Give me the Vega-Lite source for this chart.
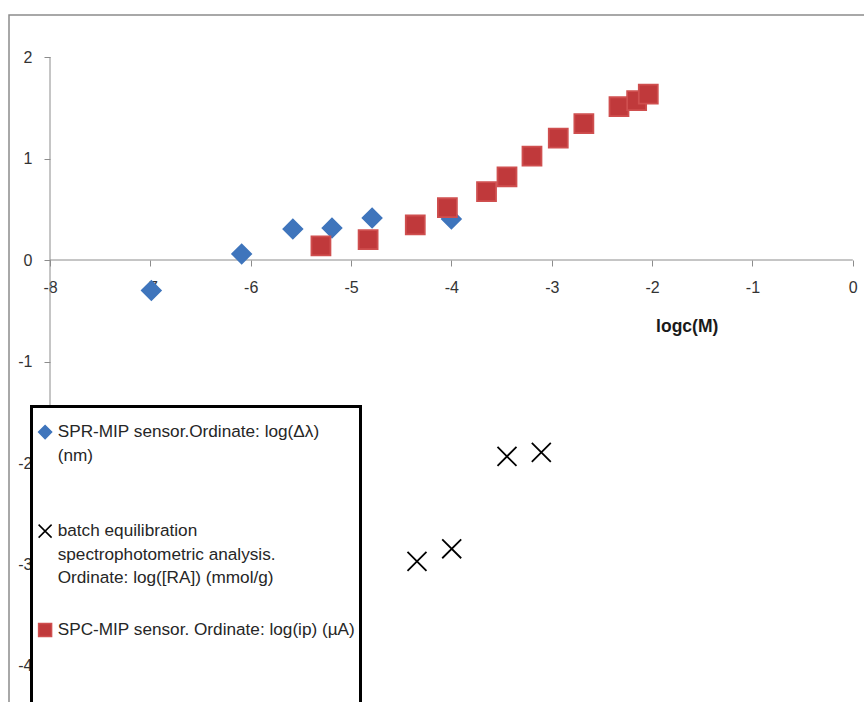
{
  "$schema": "https://vega.github.io/schema/vega-lite/v6.json",
  "width": 861,
  "height": 695,
  "padding": {"left": 9, "top": 15, "right": 0, "bottom": 0},
  "autosize": {"type": "none"},
  "background": "white",
  "config": {
    "view": {"stroke": "#8c8c8c", "strokeWidth": 1.5},
    "style": {"guide-label": {"lineHeight": 23.5}},
    "legend": {"strokeWidth": 3},
    "font": "Liberation Sans"
  },
  "encoding": {
    "x": {
      "field": "x",
      "type": "quantitative",
      "scale": {"domain": [-8.4086, 0.1714], "nice": false, "zero": false},
      "axis": {
        "values": [-8, -7, -6, -5, -4, -3, -2, -1, 0],
        "labelExpr": "'' + datum.value",
        "offset": -450,
        "domain": false,
        "grid": false,
        "ticks": true,
        "tickColor": "#8c8c8c",
        "tickSize": 6,
        "labelFont": "Liberation Sans",
        "labelFontSize": 16,
        "labelColor": "#333333",
        "labelPadding": 13,
        "labelFlush": false,
        "labelOverlap": false,
        "labelBound": false,
        "title": "logc(M)",
        "titleFont": "Liberation Sans",
        "titleFontSize": 17.5,
        "titleFontWeight": "bold",
        "titleColor": "#1a1a1a",
        "titleX": 677.7,
        "titleY": 66,
        "titleAlign": "center",
        "titleBaseline": "middle"
      }
    },
    "y": {
      "field": "y",
      "type": "quantitative",
      "scale": {"domain": [-4.4335, 2.4138], "nice": false, "zero": false},
      "axis": {
        "values": [-4, -3, -2, -1, 0, 1, 2],
        "labelExpr": "'' + datum.value",
        "offset": -41,
        "domain": false,
        "grid": false,
        "tickColor": "#8c8c8c",
        "tickSize": 6,
        "labelFont": "Liberation Sans",
        "labelFontSize": 16,
        "labelColor": "#333333",
        "labelPadding": 12,
        "labelFlush": false,
        "labelOverlap": false,
        "labelBound": false,
        "title": null
      }
    }
  },
  "layer": [
    {
      "data": {
        "values": [
          {"x": -8, "x2": 0, "y": 0, "y2": 0},
          {"x": -8, "x2": -8, "y": -4.4335, "y2": 2}
        ]
      },
      "mark": {"type": "rule", "color": "#8c8c8c", "strokeWidth": 1},
      "encoding": {
        "x2": {"field": "x2"},
        "y2": {"field": "y2"}
      }
    },
    {
      "data": {
        "values": [
          {"s": "SPR", "x": -6.99, "y": -0.30},
          {"s": "SPR", "x": -6.09, "y": 0.06},
          {"s": "SPR", "x": -5.58, "y": 0.305},
          {"s": "SPR", "x": -5.19, "y": 0.315},
          {"s": "SPR", "x": -4.79, "y": 0.414},
          {"s": "SPR", "x": -4.00, "y": 0.404},
          {"s": "batch", "x": -4.343, "y": -2.97},
          {"s": "batch", "x": -3.997, "y": -2.845},
          {"s": "batch", "x": -3.446, "y": -1.935},
          {"s": "batch", "x": -3.104, "y": -1.895},
          {"s": "SPC", "x": -5.30, "y": 0.14},
          {"s": "SPC", "x": -4.83, "y": 0.20},
          {"s": "SPC", "x": -4.36, "y": 0.345},
          {"s": "SPC", "x": -4.04, "y": 0.515},
          {"s": "SPC", "x": -3.65, "y": 0.673},
          {"s": "SPC", "x": -3.446, "y": 0.82},
          {"s": "SPC", "x": -3.197, "y": 1.024},
          {"s": "SPC", "x": -2.935, "y": 1.20},
          {"s": "SPC", "x": -2.68, "y": 1.343},
          {"s": "SPC", "x": -2.33, "y": 1.51},
          {"s": "SPC", "x": -2.154, "y": 1.57},
          {"s": "SPC", "x": -2.038, "y": 1.635}
        ]
      },
      "mark": {"type": "point", "size": 360, "strokeWidth": 1.8, "opacity": 1},
      "encoding": {
        "shape": {
          "field": "s",
          "type": "nominal",
          "scale": {"domain": ["SPR", "batch", "SPC"], "range": ["diamond", "M-1,-1L1,1M-1,1L1,-1", "square"]},
          "legend": {
            "orient": "none", "legendX": 22.5, "legendY": 391.5,
            "title": " ", "titleFontSize": 8, "titlePadding": 4,
            "padding": 5, "strokeColor": "#000000", "fillColor": "#ffffff",
            "labelFont": "Liberation Sans", "labelFontSize": 17.2, "labelColor": "#262626",
            "labelLimit": 0, "labelBaseline": "middle", "labelOffset": 4,
            "symbolSize": 169, "symbolStrokeWidth": 1.5, "rowPadding": 10, "symbolOffset": 0,
            "labelExpr": "datum.value == 'SPR' ? ['SPR-MIP sensor.Ordinate: log(Δλ)', '(nm)', '', ''] : datum.value == 'batch' ? ['batch equilibration', 'spectrophotometric analysis.', 'Ordinate: log([RA]) (mmol/g)', ''] : ['SPC-MIP sensor. Ordinate: log(ip) (µA)', '', '', '']",
            "zindex": 2
          }
        },
        "fill": {
          "field": "s",
          "type": "nominal",
          "scale": {"domain": ["SPR", "batch", "SPC"], "range": ["#3F75BC", "transparent", "#C0393B"]},
          "legend": {
            "orient": "none", "legendX": 22.5, "legendY": 391.5,
            "title": " ", "titleFontSize": 8, "titlePadding": 4,
            "padding": 5, "strokeColor": "#000000", "fillColor": "#ffffff",
            "labelFont": "Liberation Sans", "labelFontSize": 17.2, "labelColor": "#262626",
            "labelLimit": 0, "labelBaseline": "middle", "labelOffset": 4,
            "symbolSize": 169, "symbolStrokeWidth": 1.5, "rowPadding": 10, "symbolOffset": 0,
            "labelExpr": "datum.value == 'SPR' ? ['SPR-MIP sensor.Ordinate: log(Δλ)', '(nm)', '', ''] : datum.value == 'batch' ? ['batch equilibration', 'spectrophotometric analysis.', 'Ordinate: log([RA]) (mmol/g)', ''] : ['SPC-MIP sensor. Ordinate: log(ip) (µA)', '', '', '']",
            "zindex": 2
          }
        },
        "stroke": {
          "field": "s",
          "type": "nominal",
          "scale": {"domain": ["SPR", "batch", "SPC"], "range": ["#3F75BC", "#000000", "#CF4F4F"]},
          "legend": {
            "orient": "none", "legendX": 22.5, "legendY": 391.5,
            "title": " ", "titleFontSize": 8, "titlePadding": 4,
            "padding": 5, "strokeColor": "#000000", "fillColor": "#ffffff",
            "labelFont": "Liberation Sans", "labelFontSize": 17.2, "labelColor": "#262626",
            "labelLimit": 0, "labelBaseline": "middle", "labelOffset": 4,
            "symbolSize": 169, "symbolStrokeWidth": 1.5, "rowPadding": 10, "symbolOffset": 0,
            "labelExpr": "datum.value == 'SPR' ? ['SPR-MIP sensor.Ordinate: log(Δλ)', '(nm)', '', ''] : datum.value == 'batch' ? ['batch equilibration', 'spectrophotometric analysis.', 'Ordinate: log([RA]) (mmol/g)', ''] : ['SPC-MIP sensor. Ordinate: log(ip) (µA)', '', '', '']",
            "zindex": 2
          }
        }
      }
    }
  ]
}
